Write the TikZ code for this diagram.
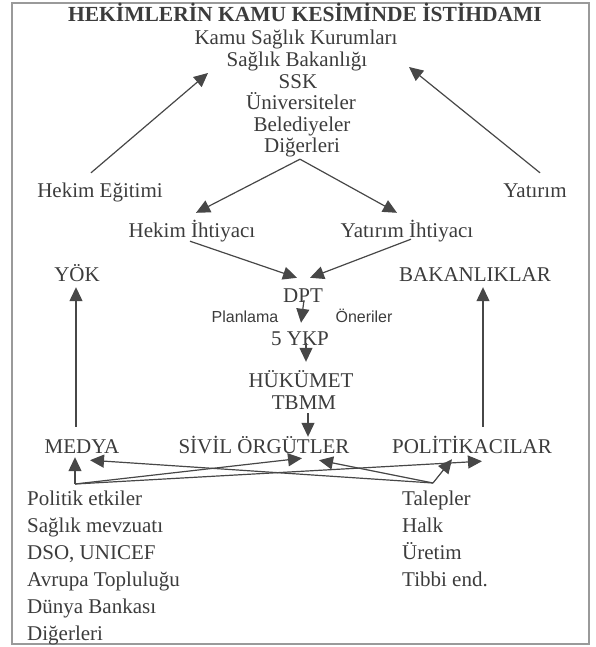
\documentclass[tikz,border=0pt]{standalone}
\usepackage{fontspec}
\setmainfont{Liberation Serif}
\newfontfamily\lblfont{Liberation Sans}
\usetikzlibrary{arrows.meta}
\definecolor{ink}{HTML}{3C3C3C}
\definecolor{lineink}{HTML}{474747}
\definecolor{framec}{HTML}{9A9A9A}
\begin{document}
\begin{tikzpicture}[x=1bp,y=-1bp,
  txt/.style={inner sep=0pt, text=ink, text height=14bp, text depth=0bp,
    font=\fontsize{21bp}{24bp}\selectfont},
  ttl/.style={txt, font=\bfseries\fontsize{21.5bp}{24bp}\selectfont},
  lbl/.style={inner sep=0pt, text=ink, text height=11.5bp, text depth=0bp,
    font=\lblfont\fontsize{16bp}{18bp}\selectfont},
  lst/.style={txt, anchor=west},
  arr/.style={draw=lineink, line width=1.2bp, -{Triangle[length=14bp,width=13bp]}},
  ln/.style={draw=lineink, line width=1.2bp}]
\useasboundingbox (0,0) rectangle (596,647);
\draw[draw=framec, line width=1.3bp] (12,3) rectangle (589,644);

% top block
\node[ttl] (title) at (305,15) {HEKİMLERİN KAMU KESİMİNDE İSTİHDAMI};
\node[txt] (k1) at (296,38) {Kamu Sağlık Kurumları};
\node[txt] (k2) at (297,60) {Sağlık Bakanlığı};
\node[txt] (k3) at (298,82) {SSK};
\node[txt] (k4) at (301,103) {Üniversiteler};
\node[txt] (k5) at (302,125) {Belediyeler};
\node[txt] (k6) at (302,146) {Diğerleri};

\node[txt] (he) at (100,190) {Hekim Eğitimi};
\node[txt] (yat) at (535,190) {Yatırım};
\node[txt] (hi) at (192,230) {Hekim İhtiyacı};
\node[txt] (yi) at (407,230) {Yatırım İhtiyacı};
\node[txt] (yok) at (77,274) {YÖK};
\node[txt] (bak) at (475,274) {BAKANLIKLAR};
\node[txt] (dpt) at (303,295) {DPT};
\node[lbl] (plan) at (245,317) {Planlama};
\node[lbl] (oner) at (364,317) {Öneriler};
\node[txt] (ykp) at (300,338) {5 YKP};
\node[txt] (huk) at (301,380) {HÜKÜMET};
\node[txt] (tbmm) at (304,402) {TBMM};
\node[txt] (med) at (82,446) {MEDYA};
\node[txt] (siv) at (264,446) {SİVİL ÖRGÜTLER};
\node[txt] (pol) at (472,446) {POLİTİKACILAR};

% bottom lists
\node[lst] (l1) at (27,498) {Politik etkiler};
\node[lst] (l2) at (27,525) {Sağlık mevzuatı};
\node[lst] (l3) at (27,552) {DSO, UNICEF};
\node[lst] (l4) at (27,579) {Avrupa Topluluğu};
\node[lst] (l5) at (27,606) {Dünya Bankası};
\node[lst] (l6) at (27,633) {Diğerleri};
\node[lst] (r1) at (402,498) {Talepler};
\node[lst] (r2) at (402,525) {Halk};
\node[lst] (r3) at (402,552) {Üretim};
\node[lst] (r4) at (402,579) {Tibbi end.};

\coordinate (kL) at (208,73);
\coordinate (kR) at (409,67);
\coordinate (L) at (75,484);
\coordinate (R) at (433,483);

% upper arrows
\draw[arr] ([shift={(-9,-10)}]he.north) -- (kL);
\draw[arr] ([shift={(5,-10)}]yat.north) -- (kR);
\draw[arr] ([shift={(-2,6)}]k6.south) -- ([shift={(4,-10)}]hi.north);
\draw[arr] ([shift={(-2,6)}]k6.south) -- ([shift={(-10,-10)}]yi.north);
\draw[arr] ([shift={(-2,4)}]hi.south) -- ([shift={(-6,-10)}]dpt.north);
\draw[arr] ([shift={(4,2)}]yi.south) -- ([shift={(7,-10)}]dpt.north);
\draw[arr] ([shift={(1,-2)}]dpt.south) -- ([shift={(1,-8)}]ykp.north);
\draw[arr] ([shift={(6,-2)}]ykp.south) -- ([shift={(5,-11)}]huk.north);
\draw[arr] ([shift={(4,4)}]tbmm.south) -- ([shift={(44,-2)}]siv.north);
\draw[arr] ([shift={(-6,-12)}]med.north) -- ([shift={(-1,6)}]yok.south);
\draw[arr] ([shift={(11,-12)}]pol.north) -- ([shift={(8,6)}]bak.south);

% bottom web
\draw[arr] (L) -- ([shift={(-7,4)}]med.south);
\draw[arr] (L) -- ([shift={(38,5)}]siv.south);
\draw[arr] (L) -- ([shift={(10,8)}]pol.south);
\draw[arr] (R) -- ([shift={(8,7)}]med.south);
\draw[arr] (R) -- ([shift={(55,7)}]siv.south);
\draw[arr] (R) -- ([shift={(-20,6)}]pol.south);
\end{tikzpicture}
\end{document}
